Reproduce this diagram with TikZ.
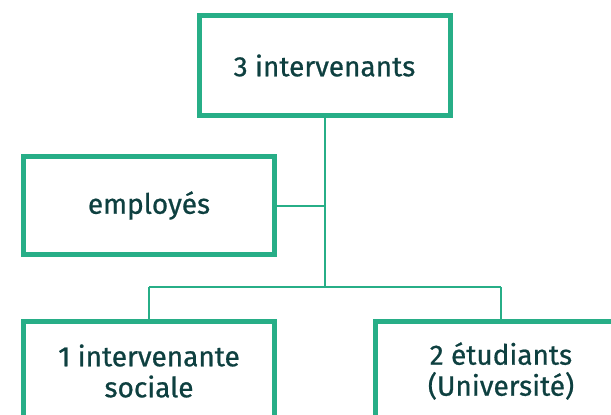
\documentclass[tikz,border=0pt]{standalone}
\usepackage{fontspec}
\setmainfont{Fira Sans}
\newfontfamily\moyen{Fira Sans}[FakeBold=0.7]
\definecolor{vert}{HTML}{27AE87}
\definecolor{encre}{HTML}{0E4040}
\begin{document}
\begin{tikzpicture}[x=1pt, y=-1pt, line cap=butt, line join=miter, font=\moyen\fontsize{28}{31}\selectfont, text=encre]
			\tikzset{boite/.style={draw=vert, line width=5pt, fill=white, minimum width=251pt, minimum height=100pt, inner sep=0pt, align=center},
				lien/.style={draw=vert, line width=2pt}}
			\useasboundingbox (0,0) rectangle (611,415);
			\coordinate (fourche) at (324.5,287);
			\draw[lien] (324.5,110) -- (fourche);
			\draw[lien] (149,287) -- (501,287);
			\draw[lien] (149,287) -- (149,325);
			\draw[lien] (501,287) -- (501,325);
			\draw[lien] (270,205.5) -- (324.5,205.5);
			\node[boite] (total) at (324.5,65.5) {3 intervenants};
			\node[boite, minimum height=98pt] (employes) at (149,205.5) {employés};
			\node[boite, minimum height=99pt] (sociale) at (149,371) {1 intervenante\\sociale};
			\node[boite, minimum height=99pt] (etudiants) at (501,371) {2 étudiants\\(Université)};
		\end{tikzpicture}
\end{document}
